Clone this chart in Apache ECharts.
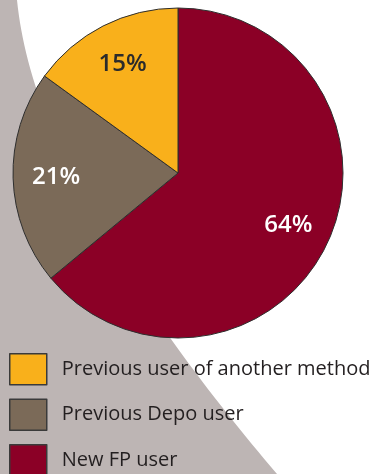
<!DOCTYPE html>
<html><head><meta charset="utf-8">
<script src="https://cdn.jsdelivr.net/npm/echarts@6/dist/echarts.min.js"></script>
<style>html,body{margin:0;padding:0;background:#fff}#c{width:375px;height:474px}</style>
</head><body><div id="c"></div>
<script>
const categories = ['New FP user', 'Previous Depo user', 'Previous user of another method'];
const values = [64, 21, 15];
const colors = ['#8b0026', '#7b6a58', '#f9b01b'];
const labelColors = ['#ffffff', '#ffffff', '#2b2b2b'];
const legendOrder = ['Previous user of another method', 'Previous Depo user', 'New FP user'];

// decorative background swoosh (cubic bezier sampled into a polygon)
function bgPoints() {
  const P = [[17, 0], [32, 150], [149, 324], [277, 474]];
  const pts = [[0, 0]];
  for (let i = 0; i <= 60; i++) {
    const t = i / 60, u = 1 - t;
    const a = u * u * u, b = 3 * u * u * t, c = 3 * u * t * t, d = t * t * t;
    pts.push([a * P[0][0] + b * P[1][0] + c * P[2][0] + d * P[3][0],
              a * P[0][1] + b * P[1][1] + c * P[2][1] + d * P[3][1]]);
  }
  pts.push([0, 474]);
  return pts;
}

const chart = echarts.init(document.getElementById('c'));
const data = categories.map((n, i) => ({
  name: n, value: values[i],
  itemStyle: { color: colors[i] },
  label: { color: labelColors[i] }
}));
chart.setOption({
  animation: false,
  graphic: [{
    type: 'polygon', z: -10, silent: true,
    shape: { points: bgPoints() },
    style: { fill: '#bdb5b4' }
  }],
  legend: {
    orient: 'vertical', left: 9, top: 353, height: 140, width: 366, padding: 0,
    itemWidth: 37, itemHeight: 31, itemGap: 13,
    data: legendOrder,
    icon: 'rect',
    itemStyle: { borderColor: '#3a3a3a', borderWidth: 1.5 },
    textStyle: { fontFamily: 'Open Sans', fontSize: 20, color: '#231f20', padding: [0, 0, 0, 10] },
    selectedMode: false
  },
  series: [{
    type: 'pie', center: [178, 173], radius: 165,
    startAngle: 90, clockwise: true,
    data: data,
    label: { show: false }, labelLine: { show: false },
    itemStyle: { borderColor: '#2e2e2e', borderWidth: 1 },
    emphasis: { disabled: true }
  }, {
    type: 'pie', center: [178, 173], radius: [94, 144],
    startAngle: 90, clockwise: true, silent: true,
    data: data.map(d => ({ name: d.name, value: d.value, label: d.label, itemStyle: { color: 'rgba(0,0,0,0)' } })),
    label: { show: true, position: 'inside', formatter: '{c}%', fontFamily: 'Open Sans', fontWeight: 600, fontSize: 24 },
    labelLine: { show: false },
    itemStyle: { borderWidth: 0 },
    emphasis: { disabled: true }
  }]
});
</script></body></html>
